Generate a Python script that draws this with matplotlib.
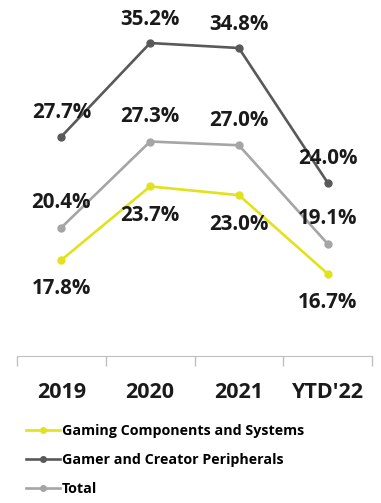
import numpy as np
import matplotlib.pyplot as plt
from matplotlib.ticker import FixedLocator

periods = ["2019", "2020", "2021", "YTD'22"]
gaming = [17.8, 23.7, 23.0, 16.7]
gamer = [27.7, 35.2, 34.8, 24.0]
total = [20.4, 27.3, 27.0, 19.1]

series = [
    ("Gaming Components and Systems", gaming, "#e2e21c", 29),
    ("Gamer and Creator Peripherals", gamer, "#595959", -24),
    ("Total", total, "#a5a5a5", -25),
]

plt.rcParams['font.family'] = ['Open Sans', 'DejaVu Sans']

fig = plt.figure(figsize=(3.81, 5.03), dpi=100)
ax = fig.add_axes([17 / 381, 147 / 503, 355 / 381, 356 / 503])

x = np.arange(len(periods))
handles = []
for name, vals, color, off in series:
    h, = ax.plot(x, vals, color=color, lw=1.9, marker="o", ms=5, label=name)
    handles.append(h)
    for xi, v in zip(x, vals):
        ax.annotate(f"{v:.1f}%", (xi, v), xytext=(0, -off * 0.72),
                    textcoords="offset points", ha="center", va="center",
                    fontsize=14.8, fontweight="bold", color="#1a1a1a")

ax.set_xlim(-0.5, len(periods) - 0.5)
ax.set_ylim(10.1, 38.65)
ax.set_xticks(x)
ax.set_xticklabels(periods, fontsize=15.5, fontweight="bold", color="#1a1a1a")
ax.xaxis.set_minor_locator(FixedLocator(np.arange(-0.5, len(periods), 1.0)))
ax.tick_params(axis="x", which="major", length=0, pad=19)
ax.tick_params(axis="x", which="minor", length=7, color="#bfbfbf", width=1)
ax.set_yticks([])
for s in ["top", "right", "left"]:
    ax.spines[s].set_visible(False)
ax.spines["bottom"].set_color("#bfbfbf")

# order in the legend: gaming, gamer, total
fig.legend(handles=handles, loc="upper left", bbox_to_anchor=(26 / 381, 1 - 424 / 503),
           frameon=False, prop={"weight": "bold", "size": 10.3},
           handlelength=2.4, handletextpad=0.1, labelspacing=1.05,
           borderpad=0, borderaxespad=0, markerscale=0.8)

fig.savefig("out.png", dpi=100)
